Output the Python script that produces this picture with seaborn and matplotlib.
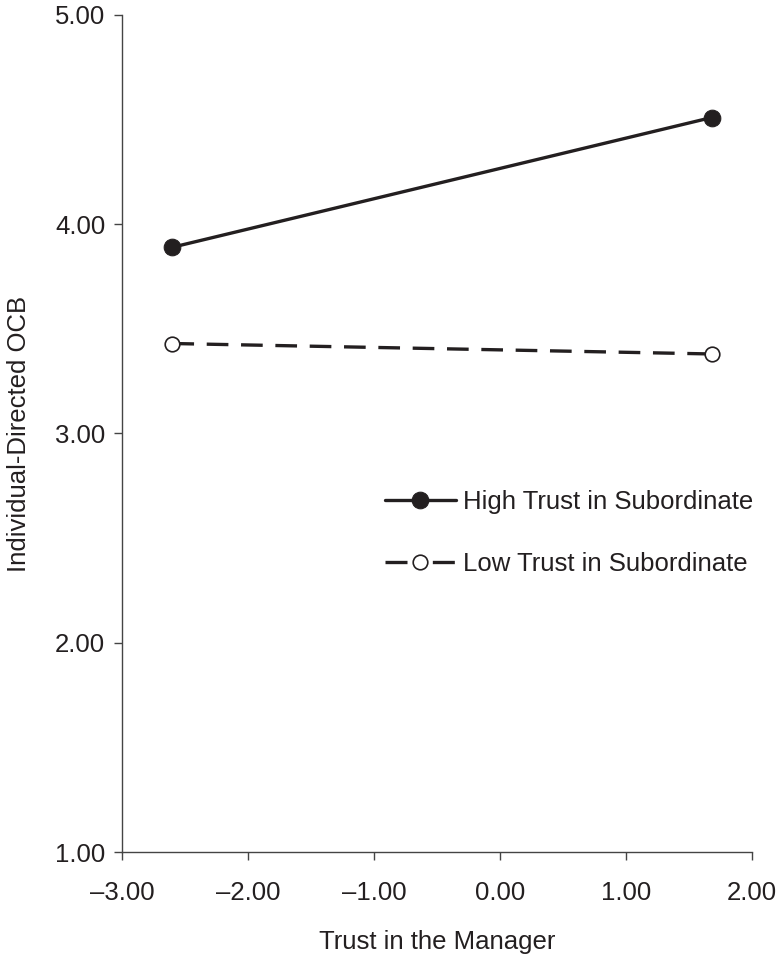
import matplotlib
matplotlib.use("Agg")
import matplotlib.pyplot as plt
import seaborn as sns
import pandas as pd
from matplotlib.ticker import FuncFormatter

sns.set_style("ticks")
plt.rcParams['font.family'] = ['Liberation Sans', 'DejaVu Sans']

trust_manager = [-2.60, 1.68]
high_trust = [3.89, 4.51]
low_trust = [3.43, 3.38]
labels = ["High Trust in Subordinate", "Low Trust in Subordinate"]
x_ticks = [-3, -2, -1, 0, 1, 2]
y_ticks = [1, 2, 3, 4, 5]

INK = "#231f20"
FS = 18.5

fig = plt.figure(figsize=(7.83, 9.6), dpi=100)
ax = fig.add_axes([0.1558, 0.1125, 0.8046, 0.8719])

df_high = pd.DataFrame({"x": trust_manager, "y": high_trust})
df_low = pd.DataFrame({"x": trust_manager, "y": low_trust})

sns.lineplot(data=df_high, x="x", y="y", ax=ax, color=INK, linewidth=2.4,
             marker="o", markersize=12, markerfacecolor=INK,
             markeredgecolor=INK, label=labels[0])
sns.lineplot(data=df_low, x="x", y="y", ax=ax, color=INK, linewidth=2.4,
             linestyle=(0, (6.5, 3.8)), marker="o", markersize=10.5,
             markerfacecolor="white", markeredgecolor=INK,
             markeredgewidth=1.2, label=labels[1])

fmt = FuncFormatter(lambda v, p: f"{v:.2f}".replace("-", "\u2013"))
ax.set_xlim(-3, 2)
ax.set_ylim(1, 5)
ax.set_xticks(x_ticks)
ax.set_yticks(y_ticks)
ax.xaxis.set_major_formatter(fmt)
ax.yaxis.set_major_formatter(fmt)
ax.tick_params(labelsize=FS, length=6, width=1, colors="#444444", labelcolor=INK)
ax.tick_params(axis="x", pad=15)
ax.tick_params(axis="y", pad=6)
for s in ["top", "right"]:
    ax.spines[s].set_visible(False)
for s in ["left", "bottom"]:
    ax.spines[s].set_color("#444444")
    ax.spines[s].set_linewidth(1)

ax.set_xlabel("Trust in the Manager", fontsize=FS, color=INK, labelpad=18)
ax.set_ylabel("Individual-Directed OCB", fontsize=FS, color=INK, labelpad=17)

leg = ax.legend(loc="upper left", bbox_to_anchor=(385 / 783, 1 - 490 / 960),
                bbox_transform=fig.transFigure, frameon=False, borderpad=0,
                borderaxespad=0, fontsize=FS, handlelength=2.75,
                handletextpad=0.3, labelspacing=1.47)
for t in leg.get_texts():
    t.set_color(INK)
leg_lines = leg.get_lines()
if len(leg_lines) > 1:
    leg_lines[1].set_linestyle((0, (6.6, 7.6)))

fig.savefig("out.png", dpi=100)
